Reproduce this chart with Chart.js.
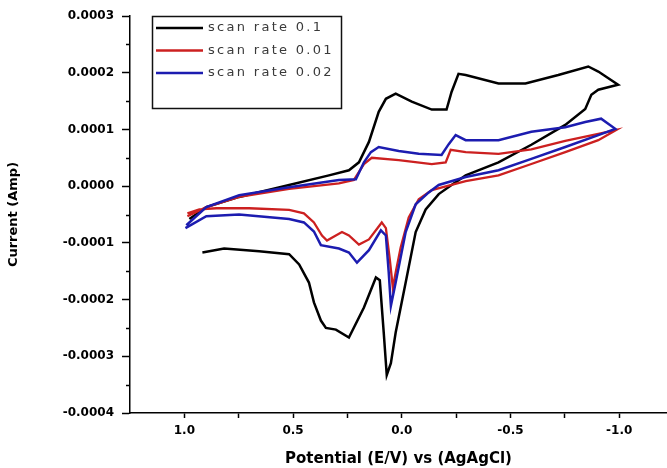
<!DOCTYPE html>
<html>
<head>
<meta charset="utf-8">
<script src="https://cdn.jsdelivr.net/npm/chart.js@4.4.1/dist/chart.umd.min.js"></script>
<style>
  html, body { margin: 0; padding: 0; background: #fff; }
  #wrap { width: 667px; height: 468px; }
</style>
</head>
<body>
<div id="wrap"><canvas id="cv"></canvas></div>
<script>
// Potential (V) and current (x 1e-4 A), one loop per scan rate
const blackE = [0.917, 0.817, 0.656, 0.518, 0.472, 0.427, 0.404, 0.372, 0.349, 0.303, 0.243, 0.174, 0.119, 0.101, 0.083, 0.069, 0.050, 0.028, -0.018, -0.064, -0.110, -0.170, -0.229, -0.294, -0.445, -0.596, -0.752, -0.844, -0.872, -0.904, -0.995,
  -0.904, -0.858, -0.720, -0.569, -0.445, -0.294, -0.261, -0.229, -0.206, -0.138, -0.046, 0.028, 0.073, 0.106, 0.151, 0.197, 0.243, 0.335, 0.518, 0.748, 0.899, 0.977];
const blackI = [-1.17, -1.10, -1.15, -1.20, -1.38, -1.70, -2.05, -2.37, -2.50, -2.53, -2.67, -2.14, -1.61, -1.66, -2.58, -3.33, -3.12, -2.58, -1.70, -0.81, -0.41, -0.14, 0.02, 0.19, 0.42, 0.73, 1.08, 1.36, 1.61, 1.70, 1.79,
  2.02, 2.11, 1.96, 1.81, 1.81, 1.96, 1.98, 1.66, 1.35, 1.35, 1.49, 1.63, 1.54, 1.31, 0.78, 0.42, 0.28, 0.19, 0.02, -0.19, -0.37, -0.58];

const redE = [0.986, 0.931, 0.853, 0.702, 0.518, 0.450, 0.404, 0.367, 0.344, 0.275, 0.243, 0.197, 0.151, 0.092, 0.073, 0.055, 0.041, 0.028, 0.005, -0.032, -0.078, -0.138, -0.294, -0.445, -0.596, -0.752, -0.904, -0.986,
  -0.904, -0.752, -0.596, -0.445, -0.294, -0.225, -0.202, -0.138, 0.014, 0.138, 0.174, 0.220, 0.289, 0.518, 0.748, 0.899, 0.986];
const redI = [-0.48, -0.41, -0.39, -0.39, -0.42, -0.48, -0.64, -0.87, -0.96, -0.81, -0.87, -1.03, -0.94, -0.64, -0.74, -1.29, -1.79, -1.52, -1.08, -0.55, -0.23, -0.07, 0.09, 0.19, 0.39, 0.60, 0.81, 0.99,
  0.92, 0.80, 0.65, 0.57, 0.60, 0.64, 0.42, 0.39, 0.46, 0.50, 0.39, 0.11, 0.05, -0.05, -0.19, -0.37, -0.53];

const blueE = [0.995, 0.899, 0.748, 0.518, 0.450, 0.404, 0.372, 0.289, 0.243, 0.206, 0.151, 0.096, 0.073, 0.060, 0.050, 0.028, -0.018, -0.064, -0.124, -0.170, -0.294, -0.445, -0.596, -0.752, -0.904, -0.982,
  -0.917, -0.844, -0.752, -0.596, -0.445, -0.294, -0.248, -0.216, -0.183, -0.078, 0.014, 0.106, 0.142, 0.174, 0.211, 0.289, 0.518, 0.748, 0.899, 0.991];
const blueI = [-0.74, -0.53, -0.50, -0.58, -0.64, -0.80, -1.04, -1.10, -1.17, -1.35, -1.13, -0.78, -0.87, -1.52, -2.11, -1.70, -0.81, -0.32, -0.11, 0.02, 0.16, 0.28, 0.48, 0.69, 0.90, 1.01,
  1.19, 1.13, 1.04, 0.96, 0.81, 0.81, 0.90, 0.74, 0.55, 0.57, 0.62, 0.69, 0.60, 0.42, 0.12, 0.11, -0.02, -0.16, -0.37, -0.69];

const seriesLabels = ['scan rate 0.1', 'scan rate 0.01', 'scan rate 0.02'];
const seriesColors = ['#000000', '#cc2020', '#1c1cb0'];
const xTicks = [1.0, 0.75, 0.5, 0.25, 0.0, -0.25, -0.5, -0.75, -1.0];
const yTicks = [-0.0004, -0.00035, -0.0003, -0.00025, -0.0002, -0.00015, -0.0001, -0.00005, 0, 0.00005, 0.0001, 0.00015, 0.0002, 0.00025, 0.0003];
const currentUnit = 1e-4;

function toPoints(es, is) {
  return es.map((e, i) => ({ x: e, y: is[i] * currentUnit }));
}
function isMajorY(v) { return Math.abs(Math.round(v / 0.0001) * 0.0001 - v) < 1e-9; }
function isMajorX(v) { return Math.abs(Math.round(v * 2) / 2 - v) < 1e-9; }

const tickFont = { family: 'DejaVu Sans', size: 12, weight: 'bold' };

// minor ticks on y are shorter, drawn by hand; legend sits inside the plot
const extras = {
  id: 'extras',
  afterDraw(chart) {
    const ctx = chart.ctx;
    const ys = chart.scales.y;
    const left = chart.chartArea.left;
    ctx.save();
    ctx.strokeStyle = '#000';
    ctx.lineWidth = 1.5;
    yTicks.forEach(v => {
      if (isMajorY(v)) return;
      const py = Math.round(ys.getPixelForValue(v)) + 0.5;
      ctx.beginPath();
      ctx.moveTo(left - 4, py);
      ctx.lineTo(left, py);
      ctx.stroke();
    });

    // legend box
    const bx = 152, by = 16, bw = 189, bh = 92;
    ctx.lineWidth = 1.5;
    ctx.strokeStyle = '#111';
    ctx.fillStyle = '#fff';
    ctx.fillRect(bx, by, bw, bh);
    ctx.strokeRect(bx + 0.5, by + 0.5, bw, bh);
    ctx.font = '13px "DejaVu Sans"';
    ctx.letterSpacing = '2.3px';
    ctx.textBaseline = 'middle';
    seriesLabels.forEach((lab, i) => {
      const ry = by + 12 + i * 22.5;
      ctx.strokeStyle = seriesColors[i];
      ctx.lineWidth = 2.5;
      ctx.beginPath();
      ctx.moveTo(bx + 4, ry);
      ctx.lineTo(bx + 51, ry);
      ctx.stroke();
      ctx.fillStyle = '#3a3a3a';
      ctx.fillText(lab, bx + 56, ry);
    });
    ctx.restore();
  }
};

new Chart(document.getElementById('cv'), {
  type: 'scatter',
  data: {
    datasets: [
      { label: seriesLabels[0], data: toPoints(blackE, blackI), borderColor: seriesColors[0], borderWidth: 2.5, order: 2 },
      { label: seriesLabels[1], data: toPoints(redE, redI), borderColor: seriesColors[1], borderWidth: 2.3, order: 1 },
      { label: seriesLabels[2], data: toPoints(blueE, blueI), borderColor: seriesColors[2], borderWidth: 2.5, order: 0 }
    ].map(d => Object.assign(d, { showLine: true, pointRadius: 0, tension: 0, fill: false }))
  },
  options: {
    responsive: true,
    maintainAspectRatio: false,
    animation: false,
    layout: { padding: { top: 16, right: 0, left: 0, bottom: 0 } },
    plugins: { legend: { display: false }, tooltip: { enabled: false } },
    scales: {
      x: {
        type: 'linear',
        reverse: true,
        min: -1.22,
        max: 1.25,
        afterBuildTicks: s => { s.ticks = xTicks.map(v => ({ value: v })); },
        afterFit: s => { s.height = 55; },
        grid: { drawOnChartArea: false, drawTicks: true, tickLength: 5, tickColor: '#000', tickWidth: 1.5 },
        border: { display: true, color: '#000', width: 1.5 },
        ticks: {
          padding: 6, color: '#000', font: tickFont, maxRotation: 0, autoSkip: false,
          callback: v => isMajorX(v) ? (Math.abs(v) < 1e-9 ? '0.0' : v.toFixed(1)) : ''
        },
        title: { display: true, text: 'Potential (E/V) vs (AgAgCl)', color: '#000', font: { family: 'DejaVu Sans', size: 15, weight: 'bold' }, padding: { top: 0, bottom: 0 } }
      },
      y: {
        type: 'linear',
        min: -0.0004,
        max: 0.0003,
        afterBuildTicks: s => { s.ticks = yTicks.map(v => ({ value: v })); },
        afterFit: s => { s.width = 130; },
        grid: {
          drawOnChartArea: false, drawTicks: true, tickLength: 8, tickWidth: 1.5,
          tickColor: c => (c.tick && isMajorY(c.tick.value)) ? '#000' : 'rgba(0,0,0,0)'
        },
        border: { display: true, color: '#000', width: 1.5 },
        ticks: {
          padding: 8, color: '#000', font: tickFont, autoSkip: false,
          callback: v => isMajorY(v) ? (Math.round(v * 1e4) === 0 ? '0.0000' : (Math.round(v * 1e4) / 1e4).toFixed(4)) : ''
        },
        title: { display: true, text: 'Current (Amp)', color: '#000', font: { family: 'DejaVu Sans', size: 13, weight: 'bold' }, padding: { top: 6, bottom: 0 } }
      }
    }
  },
  plugins: [extras]
});
</script>
</body>
</html>
